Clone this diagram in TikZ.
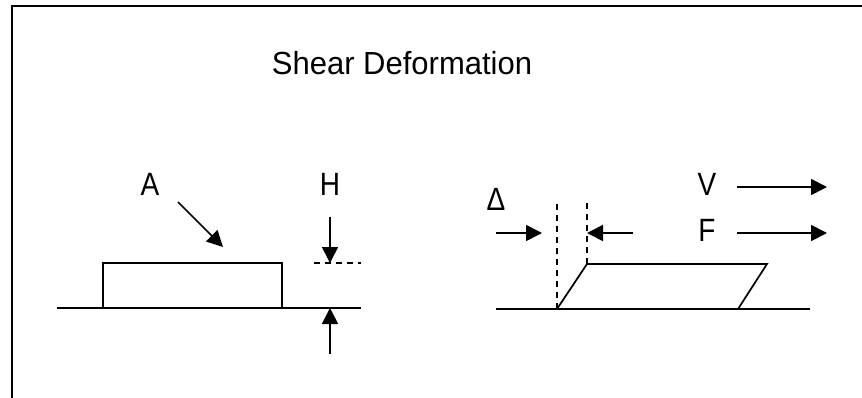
\documentclass[tikz,border=0pt]{standalone}
\usepackage{fontspec}
\setmainfont{Liberation Sans}
\usetikzlibrary{arrows.meta}
\newcommand{\etire}[2]{\scalebox{1}[#1]{#2}}

\begin{document}
\begin{tikzpicture}[x=1pt,y=-1pt,line width=1.7pt,
	dim/.style={-{Triangle[length=16pt,width=16pt]}},
	dash6/.style={dash pattern=on 6pt off 5pt},
	lbl/.style={inner sep=0pt,anchor=base,font=\fontsize{28}{34}\selectfont}]
	\useasboundingbox (0,0) rectangle (862,398);
	% cadre
	\draw[line width=2pt] (12,398) -- (12,6) -- (862,6);
	\node[lbl,font=\fontsize{31}{36}\selectfont] (title) at (402,75) {\etire{1.03}{Shear Deformation}};
	
	% bloc au repos
	\draw (57,308) -- (361,308);
	\draw (103,308) rectangle (282,263);
	\node[lbl] (A) at (150,196) {\etire{1.15}{A}};
	\coordinate (Aqueue) at (178,202);
	\coordinate (Atip) at (223,247);
	\draw[dim] (Aqueue) -- (Atip);
	
	% hauteur H
	\node[lbl] (H) at (330,196) {\etire{1.15}{H}};
	\draw[dash6] (314,263) -- (361,263);
	\coordinate (Hhaut) at (330,217);
	\coordinate (Hbas) at (330,354);
	\draw[dim] (Hhaut) -- (330,263);
	\draw[dim] (Hbas) -- (330,308);
	
	% bloc cisaille
	\draw (496,309) -- (810,309);
	\draw (557,309) -- (587,264) -- (767,264) -- (738,309);
	\draw[dash6] (557,309) -- (557,204);
	\draw[dash6] (587,264) -- (587,202);
	
	% le deplacement
	\node[lbl] (D) at (496,211) {\etire{1.15}{Δ}};
	\coordinate (Dg) at (496,233);
	\coordinate (Dd) at (633,233);
	\draw[dim] (Dg) -- (542,233);
	\draw[dim] (Dd) -- (587,233);
	
	% efforts
	\node[lbl] (V) at (707,196) {\etire{1.15}{V}};
	\node[lbl] (F) at (707,242) {\etire{1.15}{F}};
	\draw[dim] (737,187) -- (827,187);
	\draw[dim] (737,233) -- (827,233);
\end{tikzpicture}
\end{document}
